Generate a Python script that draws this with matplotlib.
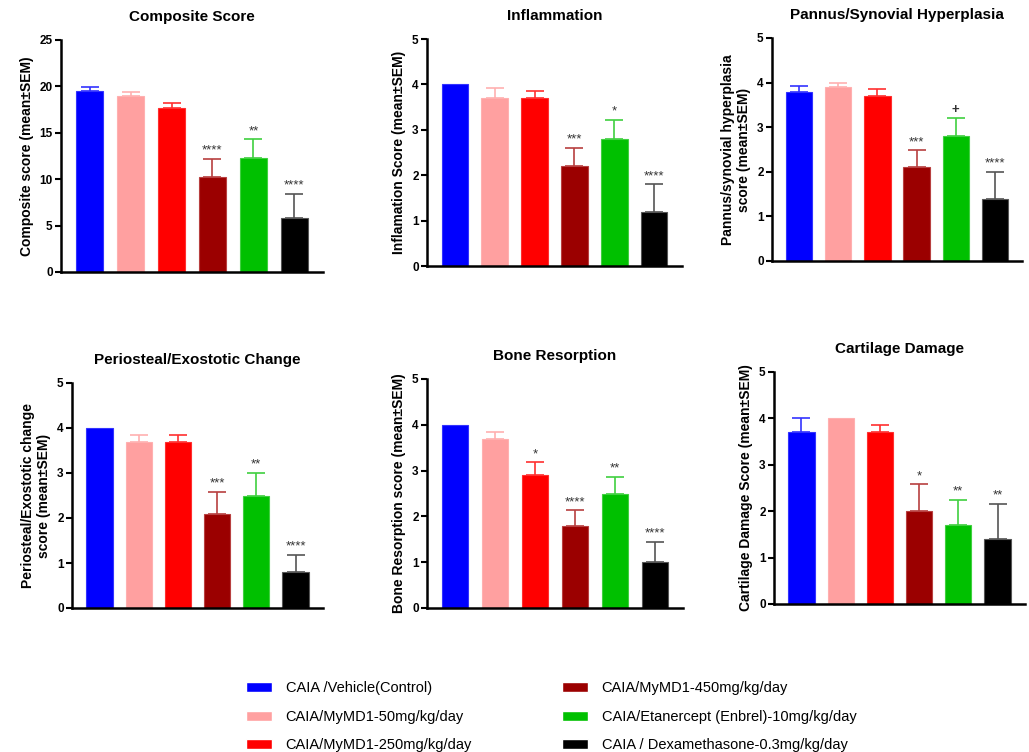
import matplotlib
matplotlib.use("Agg")
import matplotlib.pyplot as plt
from matplotlib.patches import Patch

plt.rcParams['font.family'] = ['Liberation Sans', 'DejaVu Sans']

groups = ['CAIA /Vehicle(Control)', 'CAIA/MyMD1-50mg/kg/day', 'CAIA/MyMD1-250mg/kg/day',
          'CAIA/MyMD1-450mg/kg/day', 'CAIA/Etanercept (Enbrel)-10mg/kg/day',
          'CAIA / Dexamethasone-0.3mg/kg/day']
colors = ['#0000ff', '#ffa0a0', '#ff0000', '#9b0000', '#00c000', '#000000']
err_colors = ['#3333ff', '#ffb0b0', '#ff3030', '#b84040', '#40d040', '#555555']

titles = ['Composite Score', 'Inflammation', 'Pannus/Synovial Hyperplasia',
          'Periosteal/Exostotic Change', 'Bone Resorption', 'Cartilage Damage']
ylabels = ['Composite score (mean±SEM)', 'Inflamation Score (mean±SEM)',
           'Pannus/synovial hyperplasia\nscore (mean±SEM)',
           'Periosteal/Exostotic change\nscore (mean±SEM)',
           'Bone Resorption score (mean±SEM)', 'Cartilage Damage Score (mean±SEM)']

composite_mean = [19.5, 19.0, 17.7, 10.2, 12.3, 5.8]
composite_sem = [0.4, 0.45, 0.5, 2.0, 2.0, 2.6]
composite_sig = ['', '', '', '****', '**', '****']

inflam_mean = [4.0, 3.7, 3.7, 2.2, 2.8, 1.2]
inflam_sem = [0.0, 0.22, 0.16, 0.4, 0.42, 0.6]
inflam_sig = ['', '', '', '***', '*', '****']

pannus_mean = [3.8, 3.9, 3.7, 2.1, 2.8, 1.4]
pannus_sem = [0.13, 0.1, 0.15, 0.38, 0.41, 0.6]
pannus_sig = ['', '', '', '***', '+', '****']

perio_mean = [4.0, 3.7, 3.7, 2.1, 2.5, 0.8]
perio_sem = [0.0, 0.15, 0.15, 0.48, 0.5, 0.38]
perio_sig = ['', '', '', '***', '**', '****']

bone_mean = [4.0, 3.7, 2.9, 1.8, 2.5, 1.0]
bone_sem = [0.0, 0.15, 0.28, 0.33, 0.37, 0.45]
bone_sig = ['', '', '*', '****', '**', '****']

cart_mean = [3.7, 4.0, 3.7, 2.0, 1.7, 1.4]
cart_sem = [0.3, 0.0, 0.15, 0.58, 0.54, 0.75]
cart_sig = ['', '', '', '*', '**', '**']

means = [composite_mean, inflam_mean, pannus_mean, perio_mean, bone_mean, cart_mean]
sems = [composite_sem, inflam_sem, pannus_sem, perio_sem, bone_sem, cart_sem]
sigs = [composite_sig, inflam_sig, pannus_sig, perio_sig, bone_sig, cart_sig]
ymax = [25, 5, 5, 5, 5, 5]
ystep = [5, 1, 1, 1, 1, 1]

W, H = 1029, 752
# panel boxes in pixels: x0, x1, ytop, ybottom
boxes = [(61, 323, 40, 272), (427, 682, 39, 266), (772, 1022, 38, 261),
         (72, 323, 383, 608), (427, 683, 379, 608), (774, 1025, 372, 604)]

fig = plt.figure(figsize=(W / 100, H / 100), dpi=100)

for i in range(6):
    x0, x1, yt, yb = boxes[i]
    ax = fig.add_axes([x0 / W, 1 - yb / H, (x1 - x0) / W, (yb - yt) / H])
    xs = list(range(6))
    ax.bar(xs, means[i], width=0.67, color=colors, edgecolor=err_colors, linewidth=0.8, zorder=2)
    for j in xs:
        if sems[i][j] > 0:
            ax.errorbar(j, means[i][j], yerr=[[0], [sems[i][j]]], fmt='none',
                        ecolor=err_colors[j], elinewidth=1.2, capsize=6.5, capthick=1.2, zorder=1)
        if sigs[i][j]:
            top = means[i][j] + sems[i][j]
            ax.text(j, top + ymax[i] * 0.01, sigs[i][j], ha='center', va='bottom',
                    fontsize=9.5, color='#333333', fontweight='bold' if sigs[i][j] == '+' else 'normal')
    ax.set_xlim(-0.7, 5.7)
    ax.set_ylim(0, ymax[i])
    ax.set_yticks(range(0, ymax[i] + 1, ystep[i]))
    ax.set_xticks([])
    ax.spines['top'].set_visible(False)
    ax.spines['right'].set_visible(False)
    ax.spines['left'].set_linewidth(1.8)
    ax.spines['bottom'].set_linewidth(1.8)
    ax.tick_params(axis='y', width=1.5, length=4, labelsize=8.5, pad=2)
    for lab in ax.get_yticklabels():
        lab.set_fontweight('bold')
    ax.set_ylabel(ylabels[i], fontsize=10, fontweight='bold', labelpad=4)
    ax.set_title(titles[i], fontsize=11, fontweight='bold', pad=14)

handles = [Patch(facecolor=c, edgecolor='white') for c in colors]
fig.legend(handles[:3], groups[:3], loc='upper left', bbox_to_anchor=(233 / W, 1 - 668 / H),
           frameon=False, fontsize=10.5, handlelength=1.8, handleheight=0.7,
           handletextpad=0.9, labelspacing=1.0)
fig.legend(handles[3:], groups[3:], loc='upper left', bbox_to_anchor=(549 / W, 1 - 668 / H),
           frameon=False, fontsize=10.5, handlelength=1.8, handleheight=0.7,
           handletextpad=0.9, labelspacing=1.0)

fig.savefig('out.png', dpi=100)
